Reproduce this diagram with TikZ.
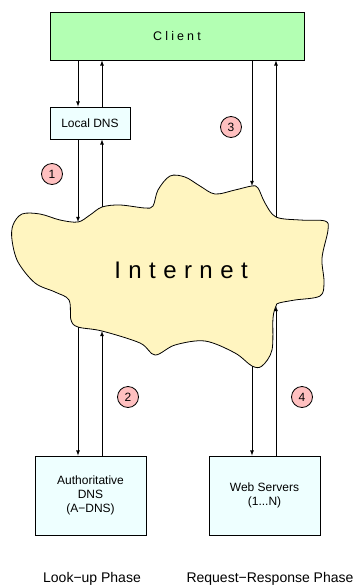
\documentclass[tikz,border=0pt]{standalone}
\usepackage{fontspec}
\setmainfont{Liberation Sans}
\newfontfamily\widefont[LetterSpace=25]{Liberation Sans}
\newfontfamily\widerfont[LetterSpace=31]{Liberation Sans}
\usetikzlibrary{arrows}
\definecolor{clientgreen}{RGB}{179,255,179}
\definecolor{dnscyan}{RGB}{238,255,255}
\definecolor{netyellow}{RGB}{255,245,192}
\definecolor{steppink}{RGB}{255,192,192}

\begin{document}
\begin{tikzpicture}
    [
        x=1pt, y=-1pt,
        box/.style = {draw, shape=rectangle, line width=0.8pt, fill=dnscyan, align=center, font=\fontsize{12}{14}\selectfont},
        stepnum/.style = {draw, shape=circle, minimum size=21pt, inner sep=0pt, fill=steppink, line width=0.8pt, font=\fontsize{12}{14}\selectfont},
        phase/.style = {font=\fontsize{14}{16}\selectfont},
        link/.style = {-latex, line width=0.8pt},
    ]
    \useasboundingbox (0,0) rectangle (355,587);

    \coordinate (toNet1)   at (78,222);
    \coordinate (fromNet1) at (102,207);
    \coordinate (toNet3)   at (252,186);
    \coordinate (fromNet3) at (276,217);
    \coordinate (fromNet2) at (78,327);
    \coordinate (toNet2)   at (102,331);
    \coordinate (fromNet4) at (252,366);
    \coordinate (toNet4)   at (276,306);

    \draw[fill=netyellow, line width=0.8pt] plot[smooth cycle, tension=0.55] coordinates {
        (13,225) (22,214) (40,214) (60,220) (toNet1) (90,215) (fromNet1) (120,205) (145,208)
        (153,206) (158,190) (170,176) (185,177) (200,186) (215,194) (235,190) (toNet3)
        (258,188) (265,203) (fromNet3) (300,220) (325,221) (328,230) (322,258) (324,282)
        (320,296) (295,300) (279,303) (toNet4) (273,318) (272,350) (262,366) (fromNet4)
        (235,353) (205,341) (175,345) (155,355) (140,343) (toNet2) (fromNet2) (71,320)
        (69,300) (55,292) (35,283) (18,262) (12,240)};
    \node (net) at (181,270) {\widerfont\fontsize{24}{28}\selectfont Internet};

    \node[box, fill=clientgreen, minimum width=254pt, minimum height=48pt] (client) at (177,36) {\widefont\fontsize{12.5}{15}\selectfont Client};
    \node[box, minimum width=80pt, minimum height=32pt] (ldns) at (90,123) {Local DNS};
    \node[box, minimum width=111pt, minimum height=79pt] (adns) at (90.5,495.5) {Authoritative\\DNS\\(A−DNS)};
    \node[box, minimum width=111pt, minimum height=79pt] (web) at (264.5,495.5) {Web Servers\\(1...N)};

    \node[stepnum] (s1) at (52,174) {1};
    \node[stepnum] (s2) at (128,397) {2};
    \node[stepnum] (s3) at (231,127) {3};
    \node[stepnum] (s4) at (302,397) {4};

    \node[phase] (lookup) at (92,579) {Look−up Phase};
    \node[phase] (reqres) at (270,579) {Request−Response Phase};

    \draw [link] (client.south -| toNet1) -- (ldns.north -| toNet1);
    \draw [link] (ldns.north -| fromNet1) -- (client.south -| fromNet1);
    \draw [link] (ldns.south -| toNet1) -- (toNet1);
    \draw [link] (fromNet1) -- (ldns.south -| fromNet1);

    \draw [link] (client.south -| toNet3) -- (toNet3);
    \draw [link] (fromNet3) -- (client.south -| fromNet3);

    \draw [link] (fromNet2) -- (adns.north -| fromNet2);
    \draw [link] (adns.north -| toNet2) -- (toNet2);

    \draw [link] (fromNet4) -- (web.north -| fromNet4);
    \draw [link] (web.north -| toNet4) -- (toNet4);
\end{tikzpicture}
\end{document}
